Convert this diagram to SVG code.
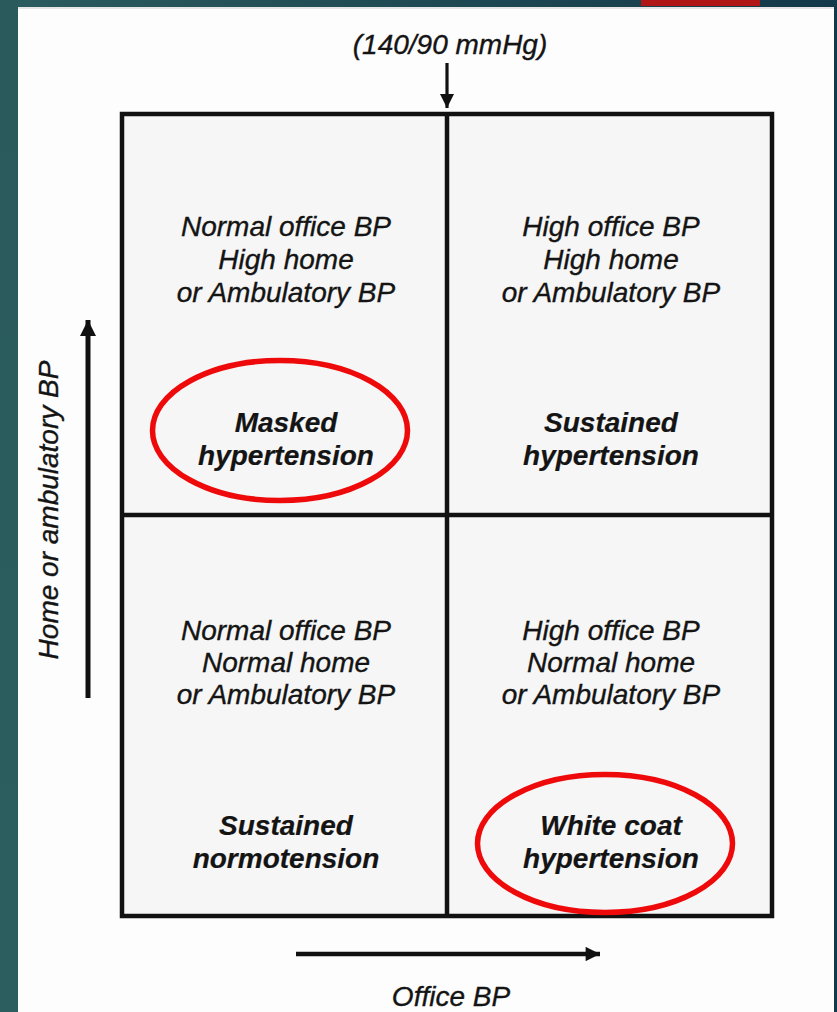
<svg xmlns="http://www.w3.org/2000/svg" width="837" height="1012" viewBox="0 0 837 1012">
  <defs>
    <linearGradient id="band" x1="0" y1="0" x2="1" y2="0">
      <stop offset="0" stop-color="#2b5c5e"/>
      <stop offset="1" stop-color="#133849"/>
    </linearGradient>
    <linearGradient id="side" x1="0" y1="0" x2="0" y2="1">
      <stop offset="0" stop-color="#2a5a5c"/>
      <stop offset="1" stop-color="#2c5e5f"/>
    </linearGradient>
    <marker id="head" viewBox="0 0 10 10" refX="10" refY="5" markerWidth="15" markerHeight="14" markerUnits="userSpaceOnUse" orient="auto">
      <path d="M0,0 L10,5 L0,10 Z" fill="#111"/>
    </marker>
    <marker id="headBig" viewBox="0 0 10 10" refX="10" refY="5" markerWidth="3.6" markerHeight="3.2" orient="auto">
      <path d="M0,0 L10,5 L0,10 Z" fill="#111"/>
    </marker>
  </defs>
  <style>
    .txt { font-family: "Liberation Sans", Arial, sans-serif; font-size: 28px; font-style: italic; fill: #141414; stroke: #141414; stroke-width: 0.35; text-anchor: middle; }
    .bold { font-weight: bold; stroke-width: 0.2; }
    .cell { fill: #f6f6f6; stroke: none; }
    .grid { fill: none; stroke: #111; stroke-width: 4.5; }
    .ring { fill: none; stroke: #ee0a0a; stroke-width: 5.5; }
    .axis { stroke: #111; fill: none; }
  </style>

  <!-- slide frame -->
  <rect x="0" y="0" width="837" height="1012" fill="#fdfdfd"/>
  <rect x="0" y="0" width="837" height="7" fill="url(#band)"/>
  <rect x="641" y="0" width="119" height="6" fill="#b01616"/>
  <rect x="0" y="0" width="18" height="1012" fill="url(#side)"/>
  <rect x="834" y="0" width="3" height="1012" fill="#133849"/>
  <rect x="18" y="7" width="816" height="2" fill="#e6e6e6"/>

  <!-- quadrant grid -->
  <g id="grid">
    <rect class="cell" x="122" y="114" width="650" height="802"/>
    <rect class="grid" x="122" y="114" width="650" height="802"/>
    <line class="grid" x1="447" y1="114" x2="447" y2="916" stroke-width="4"/>
    <line class="grid" x1="122" y1="515" x2="772" y2="515" stroke-width="4"/>
  </g>

  <!-- axes and threshold pointer -->
  <g id="connectors">
    <line class="axis" x1="447" y1="63" x2="447" y2="108" stroke-width="3.2" marker-end="url(#head)"/>
    <line class="axis" x1="88" y1="698" x2="88" y2="320" stroke-width="5" marker-end="url(#headBig)"/>
    <line class="axis" x1="296" y1="954" x2="600" y2="954" stroke-width="4.5" marker-end="url(#headBig)"/>
  </g>

  <g id="threshold">
    <text class="txt" x="450" y="54">(140/90 mmHg)</text>
  </g>
  <g id="axis-x">
    <text class="txt" x="451" y="1006">Office BP</text>
  </g>
  <g id="axis-y">
    <text class="txt" transform="translate(58,510) rotate(-90)">Home or ambulatory BP</text>
  </g>

  <g id="masked">
    <text class="txt" x="286" y="236">Normal office BP</text>
    <text class="txt" x="286" y="269">High home</text>
    <text class="txt" x="286" y="302">or Ambulatory BP</text>
    <ellipse class="ring" cx="280" cy="430.5" rx="127.5" ry="70"/>
    <text class="txt bold" x="286" y="432">Masked</text>
    <text class="txt bold" x="286" y="465">hypertension</text>
  </g>

  <g id="sustained-hypertension">
    <text class="txt" x="611" y="236">High office BP</text>
    <text class="txt" x="611" y="269">High home</text>
    <text class="txt" x="611" y="302">or Ambulatory BP</text>
    <text class="txt bold" x="611" y="432">Sustained</text>
    <text class="txt bold" x="611" y="465">hypertension</text>
  </g>

  <g id="sustained-normotension">
    <text class="txt" x="286" y="640">Normal office BP</text>
    <text class="txt" x="286" y="672">Normal home</text>
    <text class="txt" x="286" y="704">or Ambulatory BP</text>
    <text class="txt bold" x="286" y="835">Sustained</text>
    <text class="txt bold" x="286" y="868">normotension</text>
  </g>

  <g id="white-coat">
    <text class="txt" x="611" y="640">High office BP</text>
    <text class="txt" x="611" y="672">Normal home</text>
    <text class="txt" x="611" y="704">or Ambulatory BP</text>
    <ellipse class="ring" cx="605" cy="843.5" rx="127.5" ry="69"/>
    <text class="txt bold" x="611" y="835">White coat</text>
    <text class="txt bold" x="611" y="868">hypertension</text>
  </g>
</svg>
